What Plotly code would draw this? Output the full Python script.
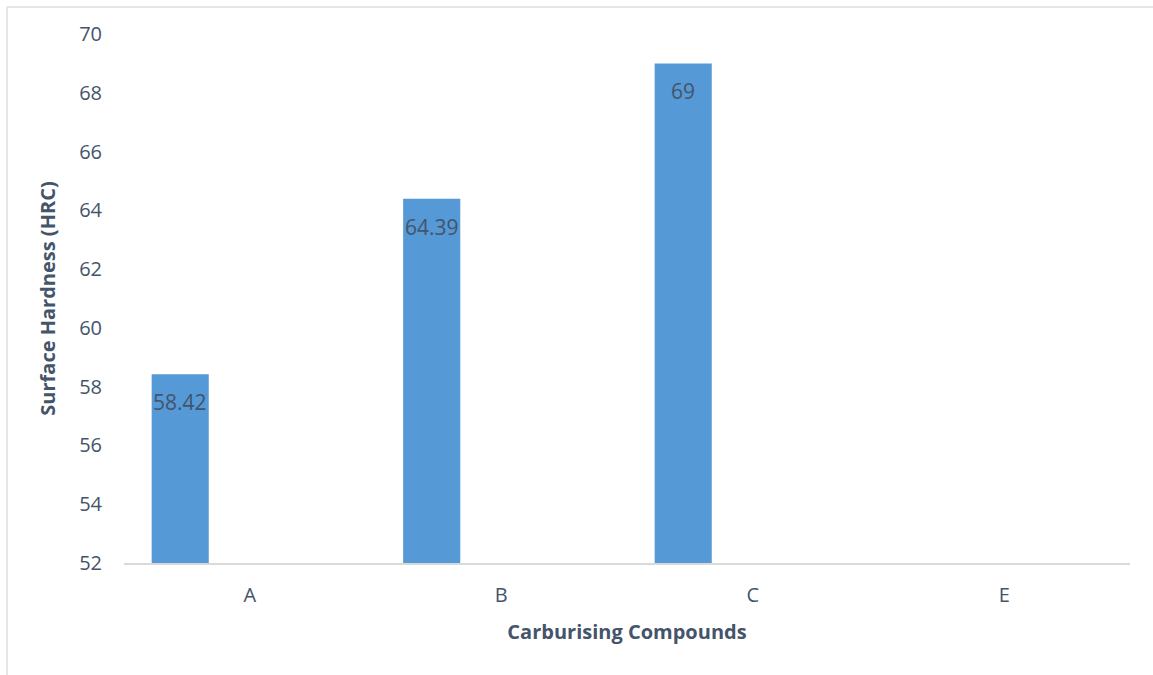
import plotly.graph_objects as go

# Surface hardness by carburising compound
compounds = ["A", "B", "C", "E"]
hardness = [58.42, 64.39, 69, None]
y_ticks = [52, 54, 56, 58, 60, 62, 64, 66, 68, 70]

text_color = "#44546A"
font_family = "Open Sans, Noto Sans, DejaVu Sans, sans-serif"

bar_offset = -0.39
bar_width = 0.227

fig = go.Figure()
fig.add_trace(go.Bar(
    x=compounds,
    y=hardness,
    offset=bar_offset,
    width=bar_width,
    marker=dict(color="#5599D6", line=dict(width=0)),
    hoverinfo="x+y",
))

# value labels just inside the top of each bar
for c, v in zip(compounds, hardness):
    if v is None:
        continue
    fig.add_annotation(
        x=c, y=v, xref="x", yref="y",
        text=f"{v:g}", showarrow=False,
        xanchor="center", yanchor="top",
        xshift=(bar_offset + bar_width / 2) * 251.5, yshift=-12,
        font=dict(family=font_family, size=21, color=text_color),
    )

# chart area border (top and left edges)
fig.add_shape(type="line", xref="paper", yref="paper",
              x0=-0.1163, x1=1.1, y0=1.051, y1=1.051,
              line=dict(color="#D9DEE5", width=1.5))
fig.add_shape(type="line", xref="paper", yref="paper",
              x0=-0.1163, x1=-0.1163, y0=1.051, y1=-0.3,
              line=dict(color="#D9DEE5", width=1.5))

fig.update_layout(
    width=1153, height=675,
    margin=dict(l=124, r=23, t=34, b=112),
    paper_bgcolor="white", plot_bgcolor="white",
    showlegend=False,
    font=dict(family=font_family, color=text_color, size=21),
    xaxis=dict(
        type="category",
        categoryorder="array", categoryarray=compounds,
        showgrid=False, zeroline=False,
        showline=True, linecolor="#D9D9D9", linewidth=1.5,
        ticks="", ticklabelstandoff=13,
        tickfont=dict(size=20, color=text_color),
        title=dict(text="<b>Carburising Compounds</b>", standoff=18,
                   font=dict(size=20, color=text_color)),
    ),
    yaxis=dict(
        range=[52, 70], tickvals=y_ticks,
        showgrid=False, zeroline=False, showline=False,
        ticks="", ticklabelstandoff=21,
        tickfont=dict(size=20, color=text_color),
        title=dict(text="<b>Surface Hardness (HRC)</b>", standoff=18,
                   font=dict(size=20, color=text_color)),
    ),
)

fig.write_html("out.html")
